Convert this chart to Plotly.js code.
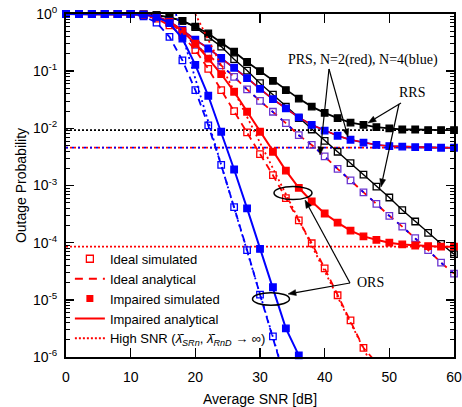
<!DOCTYPE html>
<html><head><meta charset="utf-8">
<script src="https://cdn.plot.ly/plotly-3.0.1.min.js"></script>
<style>html,body{margin:0;padding:0;background:#fff}#chart{width:462px;height:407px}</style>
</head><body><div id="chart"></div>
<script>
// Average SNR [dB]
const snr = [0,2,4,6,8,10,12,14,16,18,20,22,24,26,28,30,32,34,36,38,40,42,44,46,48,50,52,54,56,58,60];
// Outage probability, stored as log10 exponents
const rrsImpairedExp = [0,0,0,0,0,0,-0.005,-0.02,-0.06,-0.12,-0.22,-0.34,-0.50,-0.66,-0.84,-1.00,-1.17,-1.33,-1.48,-1.62,-1.73,-1.82,-1.90,-1.94,-1.98,-2.00,-2.02,-2.02,-2.03,-2.03,-2.03];
const rrsIdealExp    = [0,0,0,0,0,0,-0.005,-0.02,-0.06,-0.12,-0.23,-0.40,-0.57,-0.79,-0.99,-1.21,-1.41,-1.62,-1.82,-2.02,-2.22,-2.41,-2.61,-2.81,-3.02,-3.21,-3.43,-3.63,-3.83,-4.02,-4.20];
const prsImpairedExp = [0,0,0,0,0,0,-0.01,-0.04,-0.13,-0.28,-0.45,-0.60,-0.77,-0.94,-1.12,-1.31,-1.49,-1.65,-1.81,-1.94,-2.04,-2.13,-2.20,-2.25,-2.29,-2.31,-2.32,-2.33,-2.33,-2.34,-2.34];
const prsIdealExp    = [0,0,0,0,0,0,-0.01,-0.05,-0.15,-0.33,-0.54,-0.72,-0.90,-1.10,-1.32,-1.52,-1.71,-1.91,-2.12,-2.29,-2.49,-2.71,-2.91,-3.12,-3.32,-3.53,-3.72,-3.92,-4.13,-4.35,-4.54];
const orsN2ImpairedExp = [0,0,0,0,0,0,-0.01,-0.05,-0.14,-0.30,-0.52,-0.78,-1.05,-1.36,-1.71,-2.06,-2.41,-2.74,-3.04,-3.28,-3.49,-3.65,-3.79,-3.89,-3.95,-4.00,-4.03,-4.05,-4.06,-4.07,-4.07];
const orsN2IdealSnr = [0,2,4,6,8,10,12,14,16,18,20,22,24,26,28,30,32,34,36,38,40,42,44,46];
const orsN2IdealExp = [0,0,0,0,0,0,-0.02,-0.08,-0.20,-0.38,-0.63,-0.96,-1.33,-1.70,-2.07,-2.45,-2.82,-3.22,-3.61,-4.01,-4.45,-4.92,-5.36,-5.84];
const orsN2IdealEnd = {snr: 48, exp: -6.1};
const orsN4IdealSnr = [0,2,4,6,8,10,12,14,16,18,20,22,24,26,28,30,32];
const orsN4IdealExp = [0,0,0,0,0,0,-0.04,-0.15,-0.40,-0.81,-1.33,-1.95,-2.64,-3.38,-4.13,-4.91,-5.64];
const orsN4IdealEnd = {snr: 33, exp: -6.05};
const orsN4ImpairedSnr = [0,2,4,6,8,10,12,14,16,18,20,22,24,26,28,30,32,34,36];
const orsN4ImpairedExp = [0,0,0,0,0,0,-0.01,-0.05,-0.16,-0.43,-0.89,-1.43,-2.06,-2.72,-3.40,-4.11,-4.78,-5.50,-5.97];
const orsN4ImpairedEnd = {snr: 36.3, exp: -6.05};
// High-SNR asymptotes (end points)
const orsN2AsymSnr = [20, 48];
const orsN2AsymExp = [0, -6.3];
const orsN4AsymSnr = [17, 33];
const orsN4AsymExp = [0, -6.03];
// Error floors
const floorSnr = [0, 60];
const rrsFloor = 0.0093;
const prsFloor = 0.0046;
const orsN2Floor = 0.000085;
const yTickVals = [1, 0.1, 0.01, 0.001, 0.0001, 0.00001, 0.000001];
const yTickText = ['10<sup>0</sup>','10<sup>-1</sup>','10<sup>-2</sup>','10<sup>-3</sup>','10<sup>-4</sup>','10<sup>-5</sup>','10<sup>-6</sup>'];
const xTickVals = [0,10,20,30,40,50,60];

const RED='#ff0000', BLUE='#0000ff', BLACK='#000000', PURPLE='#6a34d0';
const p = a => a.map(v => Math.pow(10, v));

function line(x, y, color, dash, width){
  return {x:x, y:y, type:'scatter', mode:'lines', showlegend:false, hoverinfo:'skip',
          line:{color:color, width:width||1.8, dash:dash||'solid'}};
}
function marks(x, y, color, symbol){
  return {x:x, y:y, type:'scatter', mode:'markers', showlegend:false, cliponaxis:false, hoverinfo:'skip',
          marker:{symbol:symbol, size:6.5, color:color, line:{color:color, width:1.3}}};
}
const traces = [];
// floors
traces.push(line(floorSnr, [rrsFloor, rrsFloor], BLACK, '2px,2px', 1.8));
traces.push(line(floorSnr, [prsFloor, prsFloor], RED, '2px,2px', 1.8));
traces.push(line(floorSnr, [prsFloor, prsFloor], BLUE, '2px,4px', 1.8));
traces.push(line(floorSnr, [orsN2Floor, orsN2Floor], RED, '2px,2px', 1.8));
// RRS
traces.push(line(snr, p(rrsImpairedExp), BLACK, 'solid'));
traces.push(marks(snr, p(rrsImpairedExp), BLACK, 'square'));
traces.push(line(snr, p(rrsIdealExp), BLACK, 'solid', 1.4));
traces.push(marks(snr, p(rrsIdealExp), BLACK, 'square-open'));
// PRS
traces.push(line(snr, p(prsIdealExp), RED, '7px,5px'));
traces.push(line(snr, p(prsIdealExp), BLUE, '3px,9px'));
traces.push(marks(snr, p(prsIdealExp), PURPLE, 'square-open'));
traces.push(line(snr, p(prsImpairedExp), BLUE, 'solid'));
traces.push(line(snr, p(prsImpairedExp), RED, 'solid', 1.4));
traces.push(marks(snr, p(prsImpairedExp), BLUE, 'square'));
// ORS N=2
traces.push(line(orsN2AsymSnr, p(orsN2AsymExp), RED, '2px,3px'));
traces.push(line(orsN2IdealSnr.concat([orsN2IdealEnd.snr]), p(orsN2IdealExp.concat([orsN2IdealEnd.exp])), RED, '7px,5px'));
traces.push(marks(orsN2IdealSnr, p(orsN2IdealExp), RED, 'square-open'));
traces.push(line(snr, p(orsN2ImpairedExp), RED, 'solid', 2));
traces.push(marks(snr, p(orsN2ImpairedExp), RED, 'square'));
// ORS N=4
traces.push(line(orsN4AsymSnr, p(orsN4AsymExp), BLUE, '2px,3px'));
traces.push(line(orsN4IdealSnr.concat([orsN4IdealEnd.snr]), p(orsN4IdealExp.concat([orsN4IdealEnd.exp])), BLUE, '7px,5px'));
traces.push(marks(orsN4IdealSnr, p(orsN4IdealExp), BLUE, 'square-open'));
traces.push(line(orsN4ImpairedSnr.concat([orsN4ImpairedEnd.snr]), p(orsN4ImpairedExp.concat([orsN4ImpairedEnd.exp])), BLUE, 'solid', 2));
traces.push(marks(orsN4ImpairedSnr, p(orsN4ImpairedExp), BLUE, 'square'));

// legend-only entries
const legendNames = ['Ideal simulated','Ideal analytical','Impaired simulated','Impaired analytical',
  'High SNR (<i>λ̄</i><sub><i>SRn</i></sub>, <i>λ̄</i><sub><i>RnD</i></sub> → ∞)'];
const legendStyles = [
  {mode:'markers', marker:{symbol:'square-open', size:7, color:RED, line:{color:RED, width:1.3}}},
  {mode:'lines', line:{color:RED, width:2, dash:'8px,6px'}},
  {mode:'markers', marker:{symbol:'square', size:7, color:RED}},
  {mode:'lines', line:{color:RED, width:2, dash:'solid'}},
  {mode:'lines', line:{color:RED, width:2, dash:'2px,2px'}}
];
legendNames.forEach((n,i)=>{
  traces.push(Object.assign({x:[null], y:[null], type:'scatter', name:n, showlegend:true}, legendStyles[i]));
});

const minorVals = [];
for (let k=-6; k<0; k++) for (let m=2; m<10; m++) minorVals.push(m*Math.pow(10,k));

// annotation arrows drawn as shapes (pixel geometry -> paper coordinates)
const PL=66, PR=454, PT=14, PB=357;
const px2x = v => (v-PL)/(PR-PL), px2y = v => (PB-v)/(PB-PT);
function arrowShapes(tx, ty, hx, hy){
  const dx=hx-tx, dy=hy-ty, L=Math.hypot(dx,dy), ux=dx/L, uy=dy/L;
  const hl=8, hw=3;
  const bx=hx-ux*hl, by=hy-uy*hl;
  const lx=bx-uy*hw, ly=by+ux*hw, rx=bx+uy*hw, ry=by-ux*hw;
  return [
    {type:'line', xref:'paper', yref:'paper', x0:px2x(tx), y0:px2y(ty), x1:px2x(bx), y1:px2y(by), line:{color:'#000', width:1.2}},
    {type:'path', xref:'paper', yref:'paper',
     path:`M ${px2x(hx)},${px2y(hy)} L ${px2x(lx)},${px2y(ly)} L ${px2x(rx)},${px2y(ry)} Z`,
     fillcolor:'#000', line:{color:'#000', width:0.5}}
  ];
}
function ellipse(cx, cy, w, h){
  return {type:'circle', xref:'paper', yref:'paper', x0:px2x(cx-w/2), x1:px2x(cx+w/2), y0:px2y(cy+h/2), y1:px2y(cy-h/2), line:{color:'#000', width:1.5}};
}
const shapes = [ellipse(293, 193, 38, 13), ellipse(271, 299, 37, 12.5)].concat(
  arrowShapes(329, 69, 320, 155),
  arrowShapes(329, 69, 348, 137),
  arrowShapes(401, 103, 368, 123),
  arrowShapes(399, 104, 381, 187),
  arrowShapes(350, 283, 305, 200),
  arrowShapes(350, 283, 288, 294)
);

const serif = {family:'Liberation Serif, Times New Roman, serif', size:14, color:'#000'};
function label(x, y, t){
  return {xref:'paper', yref:'paper', x:px2x(x), y:px2y(y), xanchor:'center', yanchor:'middle', text:t, showarrow:false, font:serif};
}
const layout = {
  width:462, height:407,
  margin:{l:66, r:8, t:14, b:50},
  paper_bgcolor:'#fff', plot_bgcolor:'#fff',
  font:{family:'Liberation Sans, Arial, sans-serif', size:14, color:'#000'},
  showlegend:true,
  legend:{x:0.01, y:0.33, xanchor:'left', yanchor:'top', bgcolor:'rgba(0,0,0,0)',
          font:{size:13}, tracegroupgap:0, itemwidth:30},
  xaxis:{range:[0,60], tickvals:xTickVals, ticks:'inside', ticklen:9, tickwidth:1.5, tickcolor:'#000',
         mirror:'allticks', showline:true, linewidth:2, linecolor:'#000', showgrid:false, zeroline:false,
         ticklabelstandoff:6, title:{text:'Average SNR [dB]', font:{size:14}, standoff:10}},
  yaxis:{type:'log', range:[-6,0], tickvals:yTickVals, ticktext:yTickText, ticks:'inside', ticklen:8, tickwidth:1.5,
         tickcolor:'#000', mirror:'allticks', showline:true, linewidth:2, linecolor:'#000', showgrid:false, zeroline:false,
         ticklabelstandoff:4,
         minor:{tickvals:minorVals, ticks:'inside', ticklen:4, tickwidth:1, tickcolor:'#000', showgrid:false},
         title:{text:'Outage Probability', font:{size:14}, standoff:3}},
  shapes:shapes,
  annotations:[
    label(363, 60, 'PRS, N=2(red), N=4(blue)'),
    label(412, 92, 'RRS'),
    label(370, 282, 'ORS')
  ]
};
Plotly.newPlot('chart', traces, layout, {displayModeBar:false, staticPlot:true});
</script></body></html>
